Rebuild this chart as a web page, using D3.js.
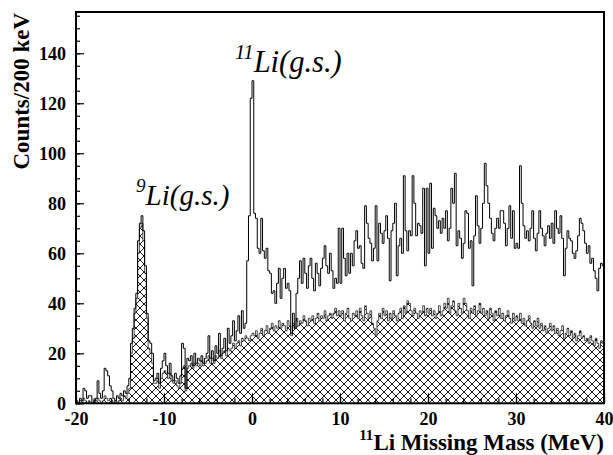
<!DOCTYPE html>
<html>
<head>
<meta charset="utf-8">
<script src="https://cdn.jsdelivr.net/npm/d3@7"></script>
<style>
  body { margin: 0; background: #fff; }
  text { font-family: "Liberation Serif", "Times New Roman", serif; }
  .tick text { font-weight: bold; font-size: 18px; fill: #000; }
</style>
</head>
<body>
<div id="chart"></div>
<script>
// 11Li missing mass spectrum, 200 keV bins from -20 to 40 MeV (300 bins)
const binStart = -20;
const binWidth = 0.2;

// all events (open histogram)
const openCounts = [
  1,0,2,1,6,5,2,3,3,0, 1,2,9,4,2,5,14,13,11,7, 5,2,1,3,2,4,3,5,4,7, 10,24,30,38,44,65,72,75,69,55, 36,25,24,20,9,10,12,8,14,17,
  20,15,12,16,11,9,12,10,8,11, 24,22,6,18,17,19,15,20,16,18, 17,19,16,18,20,27,18,21,17,23, 20,28,19,22,26,21,30,24,27,33, 25,29,35,28,37,30,32,57,75,122,
  129,76,74,62,60,74,61,58,62,53, 52,44,45,40,48,54,42,50,54,46, 48,45,28,36,30,44,50,57,48,58, 52,46,55,58,50,45,56,52,47,54, 58,63,55,52,60,53,46,50,48,70,
  48,70,58,51,60,52,60,55,65,69, 62,63,56,54,79,72,66,64,57,62, 79,57,72,68,64,69,75,66,49,69, 72,80,51,63,66,60,91,69,61,69, 67,91,80,67,72,71,68,86,55,86,
  60,88,62,78,75,70,73,68,74,70, 77,65,70,86,80,92,63,69,66,58, 64,77,76,62,65,47,67,83,71,64, 70,80,96,87,80,74,68,65,70,74, 70,77,77,72,63,70,79,66,77,62,
  64,62,95,80,71,66,69,65,70,77, 66,61,68,77,70,67,63,68,71,66, 72,64,77,70,68,75,66,51,62,69, 66,65,60,58,61,67,74,72,69,64, 60,63,56,58,53,50,45,54,56,55
];

// background (hatched histogram)
const hatchedCounts = [
  0,0,1,0,2,1,0,1,0,0, 0,1,2,1,0,1,3,2,1,2, 1,0,1,0,1,2,1,3,2,4, 6,20,26,36,42,60,70,72,65,52, 34,22,20,16,8,8,10,6,10,12,
  13,12,10,12,9,8,9,7,6,8, 14,15,5,14,15,16,14,16,15,16, 15,17,15,16,17,19,16,18,16,19, 18,21,18,20,21,19,22,21,22,24, 22,24,25,23,26,25,27,26,25,27,
  28,27,29,26,28,30,27,29,31,28, 30,32,29,31,30,33,30,32,31,29, 33,31,27,32,30,34,31,33,32,35, 33,31,34,33,35,32,34,36,33,35, 34,37,33,35,36,34,36,38,35,37,
  35,37,33,36,38,34,33,36,35,37, 34,38,35,33,39,36,34,37,32,30, 27,33,36,34,38,35,37,33,36,34, 37,35,33,36,38,34,39,36,41,40, 37,35,38,36,34,37,36,39,35,38,
  36,38,35,37,34,36,39,35,37,40, 38,42,36,39,41,37,35,40,38,36, 42,40,37,34,38,36,39,35,37,40, 36,38,35,37,34,38,36,33,37,35, 38,34,36,33,35,37,34,32,36,33,
  35,33,36,32,34,31,33,35,32,30, 33,31,34,30,32,29,31,28,30,32, 29,31,28,30,27,29,31,26,28,30, 27,29,26,28,25,27,29,26,27,25, 26,24,27,25,23,26,24,22,25,24
];

const xMajorTicks = [-20, -10, 0, 10, 20, 30, 40];
const yMajorTicks = [0, 20, 40, 60, 80, 100, 120, 140];

// dimensions
const W = 613, H = 455;
const margin = {top: 12, right: 9, bottom: 51.7, left: 76};
const width = W - margin.left - margin.right;
const height = H - margin.top - margin.bottom;

const svg = d3.select("#chart").append("svg")
    .attr("width", W)
    .attr("height", H);

// cross hatch pattern
const pat = svg.append("defs").append("pattern")
    .attr("id", "xhatch")
    .attr("patternUnits", "userSpaceOnUse")
    .attr("width", 8)
    .attr("height", 8);
pat.append("path")
    .attr("d", "M0,0L8,8M0,8L8,0M-1,1L1,-1M7,9L9,7M-1,7L1,9M7,-1L9,1")
    .attr("stroke", "#000")
    .attr("stroke-width", 0.9);

const g = svg.append("g")
    .attr("transform", `translate(${margin.left},${margin.top})`);

const x = d3.scaleLinear().domain([-20, 40]).range([0, width]);
const y = d3.scaleLinear().domain([0, 156.5]).range([height, 0]);

// step points: left edge of each bin, plus closing right edge
function steps(counts) {
    const pts = counts.map((c, i) => [binStart + i * binWidth, c]);
    pts.push([binStart + counts.length * binWidth, counts[counts.length - 1]]);
    return pts;
}

const area = d3.area()
    .x(d => x(d[0]))
    .y0(y(0))
    .y1(d => y(d[1]))
    .curve(d3.curveStepAfter);

const line = d3.line()
    .x(d => x(d[0]))
    .y(d => y(d[1]))
    .curve(d3.curveStepAfter);

// hatched background
g.append("path")
    .datum(steps(hatchedCounts))
    .attr("fill", "url(#xhatch)")
    .attr("d", area);
g.append("path")
    .datum(steps(hatchedCounts))
    .attr("fill", "none")
    .attr("stroke", "#000")
    .attr("stroke-width", 0.7)
    .attr("d", line);

// open histogram
g.append("path")
    .datum(steps(openCounts))
    .attr("fill", "none")
    .attr("stroke", "#000")
    .attr("stroke-width", 1)
    .attr("d", line);

// plain hyphen labels like the original
const plain = d => String(d);

// y axis, ticks pointing inwards
g.append("g")
    .call(d3.axisLeft(y).tickValues(d3.range(0, 156, 5)).tickSize(-4).tickFormat(""))
    .call(a => a.select(".domain").remove());
g.append("g")
    .call(d3.axisLeft(y).tickValues(yMajorTicks).tickSize(-8).tickPadding(10).tickFormat(plain))
    .call(a => a.select(".domain").remove());

// x axis
g.append("g")
    .attr("transform", `translate(0,${height})`)
    .call(d3.axisBottom(x).tickValues(d3.range(-20, 41, 2)).tickSize(-5).tickFormat(""))
    .call(a => a.select(".domain").remove());
g.append("g")
    .attr("transform", `translate(0,${height})`)
    .call(d3.axisBottom(x).tickValues(xMajorTicks).tickSize(-10).tickPadding(9).tickFormat(plain))
    .call(a => a.select(".domain").remove());

g.selectAll(".tick line").attr("stroke", "#000").attr("stroke-width", 1.2);

// frame
g.append("rect")
    .attr("width", width)
    .attr("height", height)
    .attr("fill", "none")
    .attr("stroke", "#000")
    .attr("stroke-width", 2);

// axis titles
svg.append("text")
    .attr("transform", "translate(29,13) rotate(-90)")
    .attr("text-anchor", "end")
    .attr("font-weight", "bold")
    .attr("font-size", 23)
    .text("Counts/200 keV");

const xt = svg.append("text")
    .attr("x", 604)
    .attr("y", 450)
    .attr("text-anchor", "end")
    .attr("font-weight", "bold")
    .attr("font-size", 23);
xt.append("tspan").attr("font-size", 15).attr("dy", -10).text("11");
xt.append("tspan").attr("dy", 10).text("Li Missing Mass (MeV)");

// peak labels
function peakLabel(px, py, mass, size) {
    const t = svg.append("text")
        .attr("x", px)
        .attr("y", py)
        .attr("font-style", "italic")
        .attr("font-size", size);
    t.append("tspan").attr("font-size", size * 0.66).attr("dy", -13).text(mass);
    t.append("tspan").attr("dy", 13).text("Li(g.s.)");
}
peakLabel(136, 205, "9", 29);
peakLabel(235, 72, "11", 30.5);
</script>
</body>
</html>
